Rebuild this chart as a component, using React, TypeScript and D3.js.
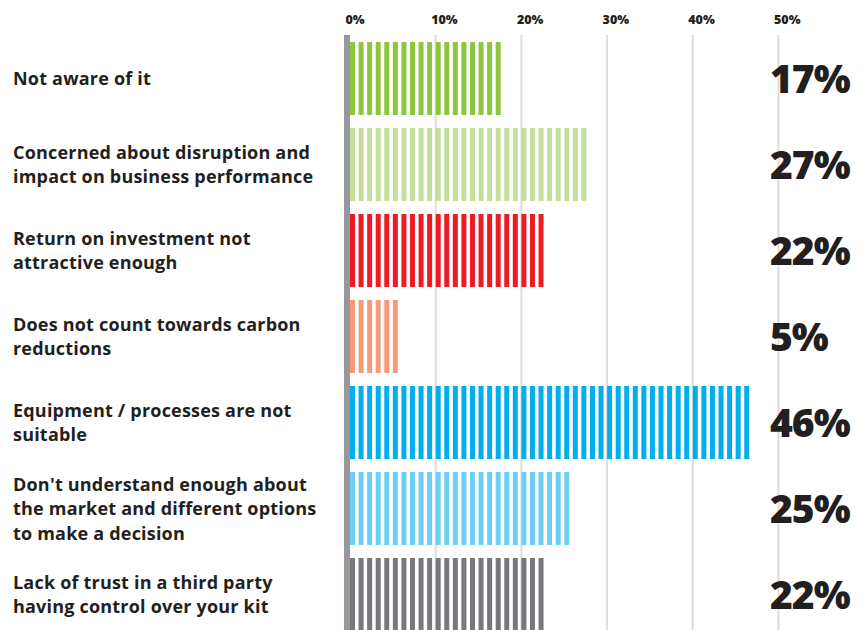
import React from "react";
import * as d3 from "d3";

const categories: string[][] = [
  ["Not aware of it"],
  ["Concerned about disruption and", "impact on business performance"],
  ["Return on investment not", "attractive enough"],
  ["Does not count towards carbon", "reductions"],
  ["Equipment / processes are not", "suitable"],
  ["Don't understand enough about", "the market and different options", "to make a decision"],
  ["Lack of trust in a third party", "having control over your kit"],
];
const values: number[] = [17, 27, 22, 5, 46, 25, 22];
const colors: string[] = ["#8cc63f", "#c3df9b", "#ed1c24", "#f69b7a", "#00aeef", "#6dcff6", "#77787b"];
const ticks: number[] = [0, 10, 20, 30, 40, 50];

const W = 867;
const H = 630;

export default function App() {
  const x = d3.scaleLinear().domain([0, 50]).range([350, 778.5]);
  const ids = categories.map((_, i) => String(i));
  const y = d3.scaleBand<string>().domain(ids).range([42, 42 + 7 * 86 - 13]).paddingInner(13 / 86).paddingOuter(0);
  const bw = y.bandwidth();
  const textColor = "#231f20";

  return (
    <svg width={W} height={H} style={{ position: "absolute", left: 0, top: 0, background: "#fff" }}>
      {ticks.slice(1).map((t) => (
        <line key={"g" + t} x1={x(t)} x2={x(t)} y1={35} y2={H} stroke="#dcdcdc" strokeWidth={2} />
      ))}
      {ticks.map((t) => (
        <text key={"t" + t} x={x(t) - 4.5} y={24} fontFamily="'Open Sans', sans-serif" fontWeight={800} fontSize={12.5} fill={textColor}>
          {t}%
        </text>
      ))}
      {values.map((v, i) => {
        const y0 = y(ids[i]) as number;
        const stripes = d3.range(0, v + 1);
        return (
          <g key={"b" + i}>
            {stripes.map((s) => (
              <rect key={s} x={x(s)} y={y0} width={5} height={bw} fill={colors[i]} />
            ))}
            <text x={770} y={y0 + bw / 2 + 14} fontFamily="'Open Sans', sans-serif" fontWeight={800} fontSize={39} fill={textColor} letterSpacing={-1}>
              {v}%
            </text>
            {categories[i].map((line, j) => (
              <text
                key={j}
                x={13}
                y={y0 + bw / 2 + 6.5 + (j - (categories[i].length - 1) / 2) * 24.5}
                fontFamily="'Open Sans', sans-serif"
                fontWeight={700}
                fontSize={18}
                letterSpacing={0.2}
                fill={textColor}
              >
                {line}
              </text>
            ))}
          </g>
        );
      })}
      <rect x={344} y={35} width={6} height={H - 35} fill="#98989c" />
    </svg>
  );
}
